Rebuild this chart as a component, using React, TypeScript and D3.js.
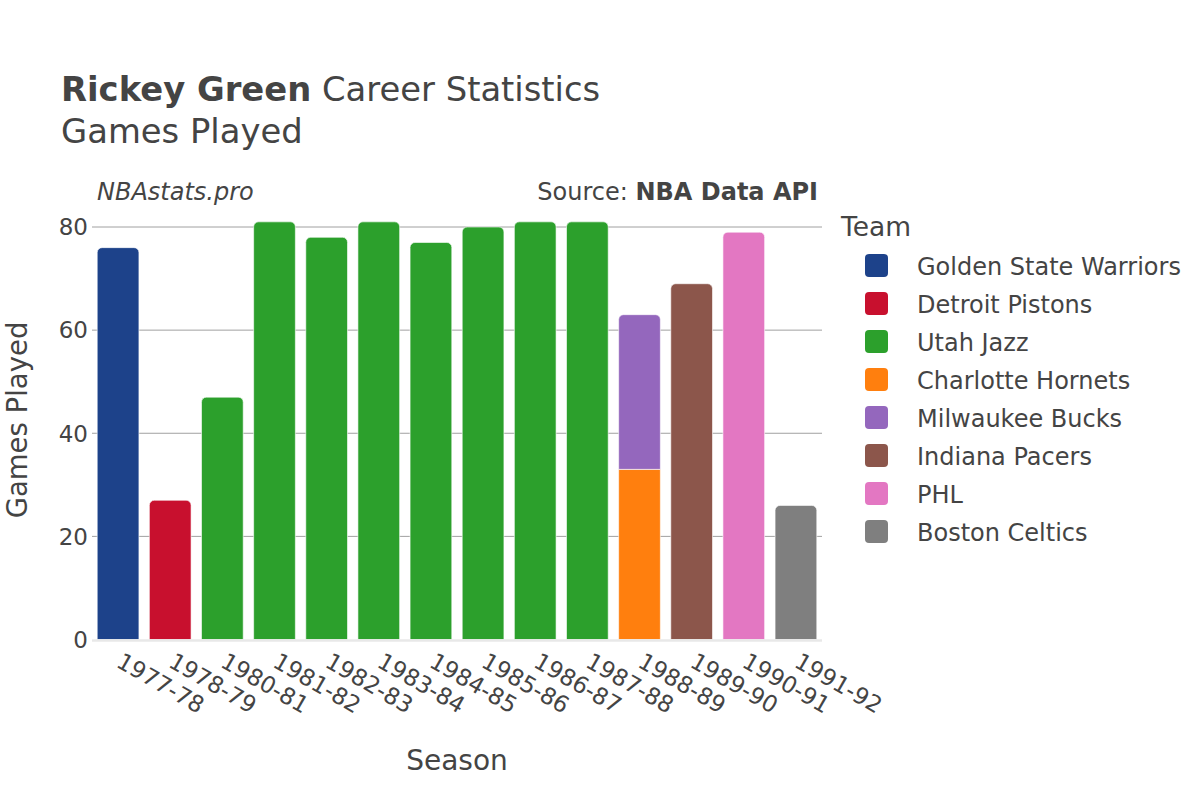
import { useRef, useEffect } from 'react';
import * as d3 from 'd3';

const seasons = [
  '1977-78', '1978-79', '1980-81', '1981-82', '1982-83', '1983-84', '1984-85',
  '1985-86', '1986-87', '1987-88', '1988-89', '1989-90', '1990-91', '1991-92',
];

const teams = [
  'Golden State Warriors', 'Detroit Pistons', 'Utah Jazz', 'Charlotte Hornets',
  'Milwaukee Bucks', 'Indiana Pacers', 'PHL', 'Boston Celtics',
];
const teamColors = [
  '#1d428a', '#c8102e', '#2ca02c', '#ff7f0e', '#9467bd', '#8c564b', '#e377c2', '#7f7f7f',
];

// one entry per season/team stint, stacked in this order
const stintSeasons = [
  '1977-78', '1978-79', '1980-81', '1981-82', '1982-83', '1983-84', '1984-85', '1985-86',
  '1986-87', '1987-88', '1988-89', '1988-89', '1989-90', '1990-91', '1991-92',
];
const stintTeams = [
  'Golden State Warriors', 'Detroit Pistons', 'Utah Jazz', 'Utah Jazz', 'Utah Jazz', 'Utah Jazz',
  'Utah Jazz', 'Utah Jazz', 'Utah Jazz', 'Utah Jazz', 'Charlotte Hornets', 'Milwaukee Bucks',
  'Indiana Pacers', 'PHL', 'Boston Celtics',
];
const stintGames = [76, 27, 47, 81, 78, 81, 77, 80, 81, 81, 33, 30, 69, 79, 26];

const yTicks = [0, 20, 40, 60, 80];

const FONT = "'DejaVu Sans', sans-serif";
const TEXT = '#444';

const barPath = (x0: number, w: number, yTop: number, yBot: number, r: number, round: boolean) => {
  const p = d3.path();
  if (!round) {
    p.rect(x0, yTop, w, yBot - yTop);
    return p.toString();
  }
  p.moveTo(x0, yBot);
  p.lineTo(x0, yTop + r);
  p.arcTo(x0, yTop, x0 + r, yTop, r);
  p.lineTo(x0 + w - r, yTop);
  p.arcTo(x0 + w, yTop, x0 + w, yTop + r, r);
  p.lineTo(x0 + w, yBot);
  p.closePath();
  return p.toString();
};

const App = () => {
  const svgRef = useRef<SVGSVGElement>(null);

  useEffect(() => {
    if (!svgRef.current) return;
    const svg = d3.select(svgRef.current);
    svg.selectAll('*').remove();

    const plotLeft = 92;
    const plotRight = 822;

    const x = d3.scaleBand<string>()
      .domain(seasons)
      .range([plotLeft, plotRight])
      .paddingInner(0.2)
      .paddingOuter(0.1);

    const y = d3.scaleLinear()
      .domain([0, 80])
      .range([639.5, 227]);

    svg.append('rect').attr('width', 1200).attr('height', 800).attr('fill', '#fff');

    // gridlines
    svg.append('g')
      .selectAll('line')
      .data(yTicks.filter(t => t > 0))
      .enter()
      .append('line')
      .attr('x1', plotLeft)
      .attr('x2', plotRight)
      .attr('y1', d => y(d))
      .attr('y2', d => y(d))
      .attr('stroke', '#a0a0a0')
      .attr('stroke-width', 1);

    // y tick labels
    svg.append('g')
      .selectAll('text')
      .data(yTicks)
      .enter()
      .append('text')
      .attr('x', 88)
      .attr('y', d => y(d))
      .attr('dy', '0.36em')
      .attr('text-anchor', 'end')
      .attr('font-family', FONT)
      .attr('font-size', 23)
      .attr('fill', TEXT)
      .text(d => d);

    // stacked bars
    const offsets = new Map<string, number>();
    const lastIndex = new Map<string, number>();
    stintSeasons.forEach((s, i) => lastIndex.set(s, i));
    const bars = stintSeasons.map((s, i) => {
      const base = offsets.get(s) || 0;
      offsets.set(s, base + stintGames[i]);
      return { season: s, team: stintTeams[i], y0: base, y1: base + stintGames[i], top: lastIndex.get(s) === i };
    });

    svg.append('g')
      .selectAll('path')
      .data(bars)
      .enter()
      .append('path')
      .attr('d', d => barPath(x(d.season)!, x.bandwidth(), y(d.y1), y(d.y0), 5, d.top))
      .attr('fill', d => teamColors[teams.indexOf(d.team)])
      .attr('stroke', '#fff')
      .attr('stroke-width', 0.6);

    // zero line
    svg.append('line')
      .attr('x1', plotLeft)
      .attr('x2', plotRight)
      .attr('y1', y(0) + 1)
      .attr('y2', y(0) + 1)
      .attr('stroke', '#e8e8e8')
      .attr('stroke-width', 2.5);

    // x tick labels
    svg.append('g')
      .selectAll('text')
      .data(seasons)
      .enter()
      .append('text')
      .attr('transform', d => `translate(${x(d)! + x.bandwidth() / 2 - 3},666) rotate(30)`)
      .attr('font-family', FONT)
      .attr('font-size', 23)
      .attr('fill', TEXT)
      .text(d => d);

    // axis titles
    svg.append('text')
      .attr('x', (plotLeft + plotRight) / 2)
      .attr('y', 770)
      .attr('text-anchor', 'middle')
      .attr('font-family', FONT)
      .attr('font-size', 28)
      .attr('fill', TEXT)
      .text('Season');

    svg.append('text')
      .attr('transform', 'translate(27,420) rotate(-90)')
      .attr('text-anchor', 'middle')
      .attr('font-family', FONT)
      .attr('font-size', 27.5)
      .attr('fill', TEXT)
      .text('Games Played');

    // titles
    const title = svg.append('text')
      .attr('x', 61)
      .attr('y', 101)
      .attr('font-family', FONT)
      .attr('font-size', 33.8)
      .attr('fill', TEXT);
    title.append('tspan').attr('font-weight', 'bold').text('Rickey Green');
    title.append('tspan').text(' Career Statistics');

    svg.append('text')
      .attr('x', 61)
      .attr('y', 143)
      .attr('font-family', FONT)
      .attr('font-size', 33.8)
      .attr('fill', TEXT)
      .text('Games Played');

    svg.append('text')
      .attr('x', 97)
      .attr('y', 200)
      .attr('font-family', FONT)
      .attr('font-size', 24)
      .attr('font-style', 'italic')
      .attr('fill', TEXT)
      .text('NBAstats.pro');

    const source = svg.append('text')
      .attr('x', 818)
      .attr('y', 200)
      .attr('text-anchor', 'end')
      .attr('font-family', FONT)
      .attr('font-size', 24)
      .attr('fill', TEXT);
    source.append('tspan').text('Source: ');
    source.append('tspan').attr('font-weight', 'bold').text('NBA Data API');

    // legend
    const legend = svg.append('g');
    legend.append('text')
      .attr('x', 841)
      .attr('y', 236)
      .attr('font-family', FONT)
      .attr('font-size', 26.5)
      .attr('fill', TEXT)
      .text('Team');

    const rows = legend.selectAll('g.row')
      .data(teams)
      .enter()
      .append('g')
      .attr('class', 'row')
      .attr('transform', (_, i) => `translate(0,${265.5 + i * 38})`);

    rows.append('rect')
      .attr('x', 865)
      .attr('y', -11.5)
      .attr('width', 23)
      .attr('height', 23)
      .attr('rx', 4)
      .attr('fill', (_, i) => teamColors[i]);

    rows.append('text')
      .attr('x', 917)
      .attr('y', 9)
      .attr('font-family', FONT)
      .attr('font-size', 24)
      .attr('fill', TEXT)
      .text(d => d);
  }, []);

  return (
    <svg
      ref={svgRef}
      width={1200}
      height={800}
      style={{ position: 'absolute', left: 0, top: 0 }}
    />
  );
};

export default App;
